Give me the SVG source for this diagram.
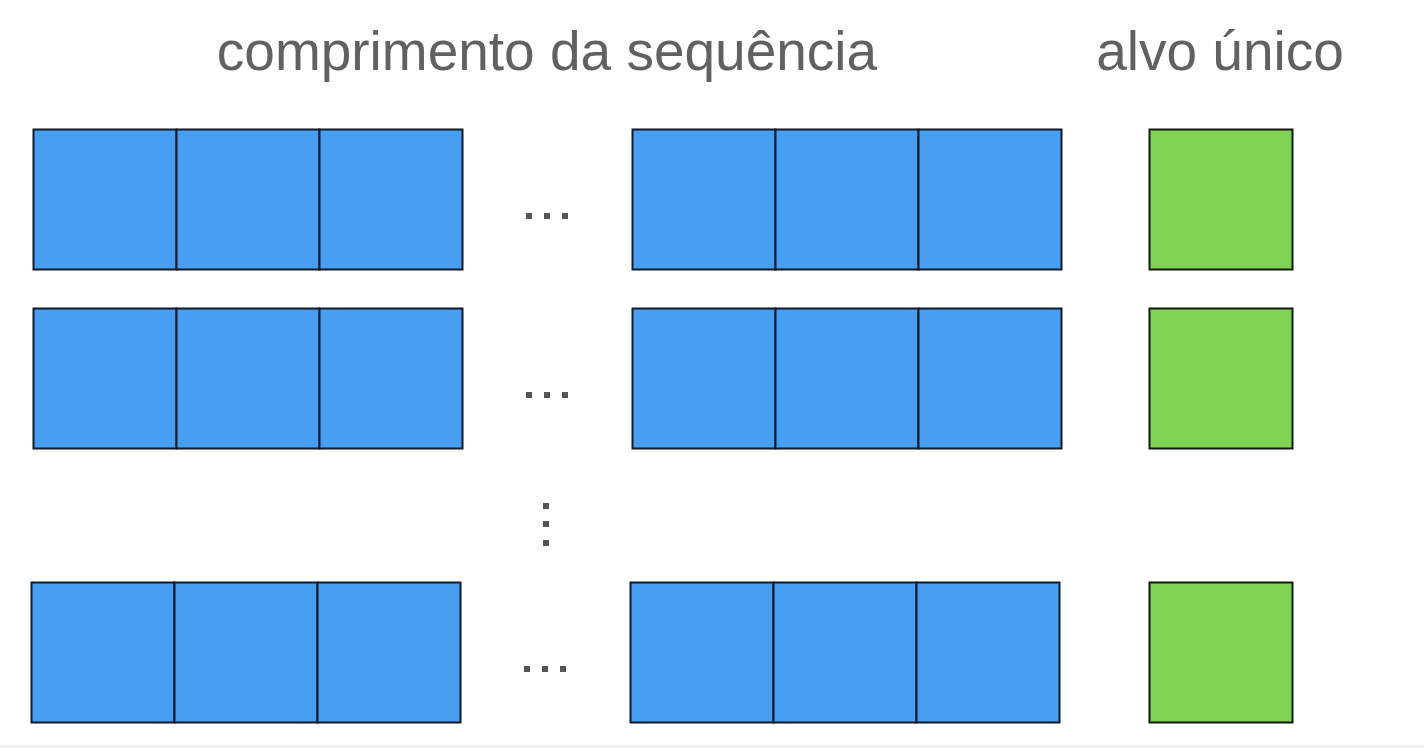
<svg xmlns="http://www.w3.org/2000/svg" width="1424" height="748" viewBox="0 0 1424 748">
<style>
.t{font-family:"Liberation Sans",Arial,sans-serif;font-size:55px;fill:#616161;text-anchor:middle}
.b{fill:#489ef1;stroke:#111a26;stroke-width:2}
.g{fill:#80d352;stroke:#111a11;stroke-width:2}
.d{fill:#555555}
</style>
<rect x="0" y="0" width="1424" height="748" fill="#ffffff"/>
<line x1="0" y1="746.5" x2="1424" y2="746.5" stroke="#ececec" stroke-width="2"/>
<text class="t" x="547" y="70">comprimento da sequência</text>
<text class="t" x="1220" y="70">alvo único</text>
<g id="row1">
<rect class="b" x="33.5" y="129.5" width="143" height="140"/>
<rect class="b" x="176.5" y="129.5" width="143" height="140"/>
<rect class="b" x="319.5" y="129.5" width="143" height="140"/>
<rect class="d" x="526" y="213" width="6" height="6"/>
<rect class="d" x="544" y="213" width="6" height="6"/>
<rect class="d" x="562" y="213" width="6" height="6"/>
<rect class="b" x="632.5" y="129.5" width="143" height="140"/>
<rect class="b" x="775.5" y="129.5" width="143" height="140"/>
<rect class="b" x="918.5" y="129.5" width="143" height="140"/>
</g>
<g id="target1"><rect class="g" x="1149.5" y="129.5" width="143" height="140"/></g>
<g id="row2">
<rect class="b" x="33.5" y="308.5" width="143" height="140"/>
<rect class="b" x="176.5" y="308.5" width="143" height="140"/>
<rect class="b" x="319.5" y="308.5" width="143" height="140"/>
<rect class="d" x="526" y="392" width="6" height="6"/>
<rect class="d" x="544" y="392" width="6" height="6"/>
<rect class="d" x="562" y="392" width="6" height="6"/>
<rect class="b" x="632.5" y="308.5" width="143" height="140"/>
<rect class="b" x="775.5" y="308.5" width="143" height="140"/>
<rect class="b" x="918.5" y="308.5" width="143" height="140"/>
</g>
<g id="target2"><rect class="g" x="1149.5" y="308.5" width="143" height="140"/></g>
<g id="vdots">
<rect class="d" x="543" y="503" width="6" height="6"/>
<rect class="d" x="543" y="521" width="6" height="6"/>
<rect class="d" x="543" y="540" width="6" height="6"/>
</g>
<g id="row3">
<rect class="b" x="31.5" y="582.5" width="143" height="140"/>
<rect class="b" x="174.5" y="582.5" width="143" height="140"/>
<rect class="b" x="317.5" y="582.5" width="143" height="140"/>
<rect class="d" x="524" y="666" width="6" height="6"/>
<rect class="d" x="542" y="666" width="6" height="6"/>
<rect class="d" x="560" y="666" width="6" height="6"/>
<rect class="b" x="630.5" y="582.5" width="143" height="140"/>
<rect class="b" x="773.5" y="582.5" width="143" height="140"/>
<rect class="b" x="916.5" y="582.5" width="143" height="140"/>
</g>
<g id="target3"><rect class="g" x="1149.5" y="582.5" width="143" height="140"/></g>
<g id="connectors"></g>
</svg>
